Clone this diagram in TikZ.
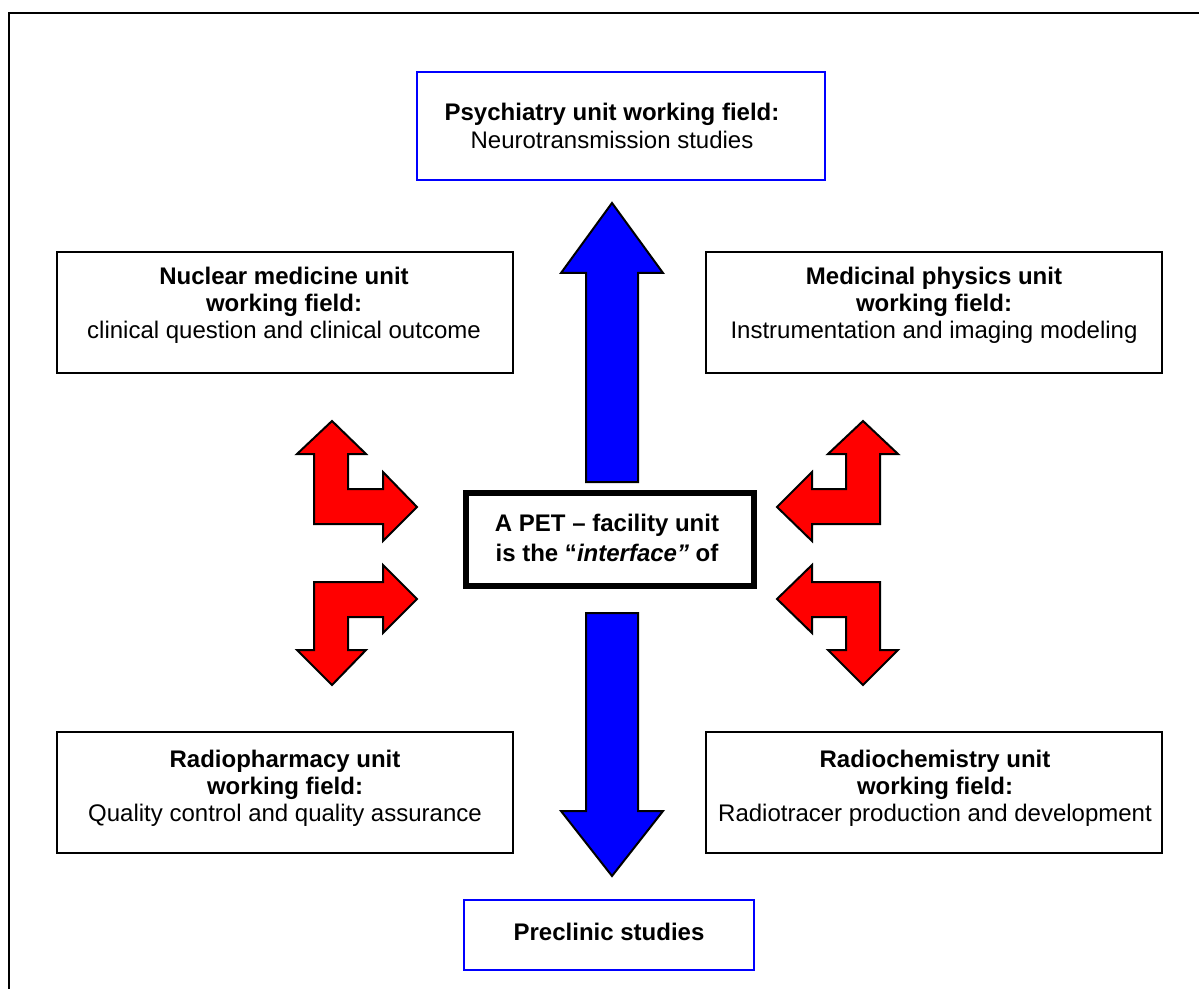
\documentclass[tikz,border=0pt]{standalone}
\usepackage{fontspec}
\setmainfont{Liberation Sans}
\begin{document}
\begin{tikzpicture}[x=0.5pt,y=-0.5pt,
  bluebox/.style={draw=blue, line width=1pt, rectangle, inner sep=0pt},
  blackbox/.style={draw=black, line width=0.75pt, rectangle, inner sep=0pt},
  corebox/.style={draw=black, line width=3pt, rectangle, inner sep=0pt},
  txt/.style={align=center, inner sep=0pt, font=\fontsize{12}{13.6}\selectfont},
  coretxt/.style={align=center, inner sep=0pt, font=\fontsize{12}{15}\selectfont\bfseries},
  bluearrow/.style={fill=blue, draw=black, line width=1pt, line join=miter},
  redarrow/.style={fill=red, draw=black, line width=1pt, line join=miter}]
\useasboundingbox (0,0) rectangle (1199,989);
\fill[white] (0,0) rectangle (1199,989);
% outer frame (only left and top visible)
\draw[line width=1pt] (9,1000) -- (9,13) -- (1210,13);

% boxes
\node[bluebox, minimum width=204pt, minimum height=54pt] (psy) at (621,126) {};
\node[blackbox, minimum width=228pt, minimum height=60.5pt] (nuc) at (285,312.5) {};
\node[blackbox, minimum width=228pt, minimum height=60.5pt] (med) at (934,312.5) {};
\node[corebox, minimum width=144pt, minimum height=46.5pt] (core) at (610,539.5) {};
\node[blackbox, minimum width=228pt, minimum height=60.5pt] (rph) at (285,792.5) {};
\node[blackbox, minimum width=228pt, minimum height=60.5pt] (rch) at (934,792.5) {};
\node[bluebox, minimum width=145pt, minimum height=35pt] (pre) at (609,935) {};

% texts
\node[txt] (psyT) at (612,126) {\textbf{Psychiatry unit working field:}\\Neurotransmission studies};
\node[txt] (nucT) at (284,305) {\textbf{Nuclear medicine unit}\\\textbf{working field:}\\clinical question and clinical outcome};
\node[txt] (medT) at (934,305) {\textbf{Medicinal physics unit}\\\textbf{working field:}\\Instrumentation and imaging modeling};
\node[coretxt] (coreT) at (607,538) {A PET -- facility unit\\is the ``\textit{interface''} of};
\node[txt] (rphT) at (285,788) {\textbf{Radiopharmacy unit}\\\textbf{working field:}\\Quality control and quality assurance};
\node[txt] (rchT) at (935,788) {\textbf{Radiochemistry unit}\\\textbf{working field:}\\Radiotracer production and development};
\node[txt] (preT) at (609,932) {\textbf{Preclinic studies}};

% blue arrows
\draw[bluearrow] (612,203) -- (663,273) -- (638,273) -- (638,482) -- (586,482) -- (586,273) -- (561,273) -- cycle;
\draw[bluearrow] (586,613) -- (638,613) -- (638,811) -- (663,811) -- (612,876) -- (561,811) -- (586,811) -- cycle;

% red bent arrows, left
\draw[redarrow] (332,421) -- (366,454) -- (348,454) -- (348,489) -- (383,489) -- (383,472) -- (417,507) -- (383,541) -- (383,524) -- (314,524) -- (314,454) -- (297,454) -- cycle;
\draw[redarrow] (314,582) -- (383,582) -- (383,565) -- (417,599) -- (383,633) -- (383,617) -- (348,617) -- (348,650) -- (366,650) -- (332,685) -- (297,650) -- (314,650) -- cycle;
% red bent arrows, right
\draw[redarrow] (863,421) -- (898,454) -- (880,454) -- (880,524) -- (812,524) -- (812,541) -- (777,507) -- (812,472) -- (812,489) -- (846,489) -- (846,454) -- (828,454) -- cycle;
\draw[redarrow] (777,599) -- (812,565) -- (812,582) -- (880,582) -- (880,650) -- (898,650) -- (863,685) -- (828,650) -- (846,650) -- (846,617) -- (812,617) -- (812,633) -- cycle;
\end{tikzpicture}
\end{document}
